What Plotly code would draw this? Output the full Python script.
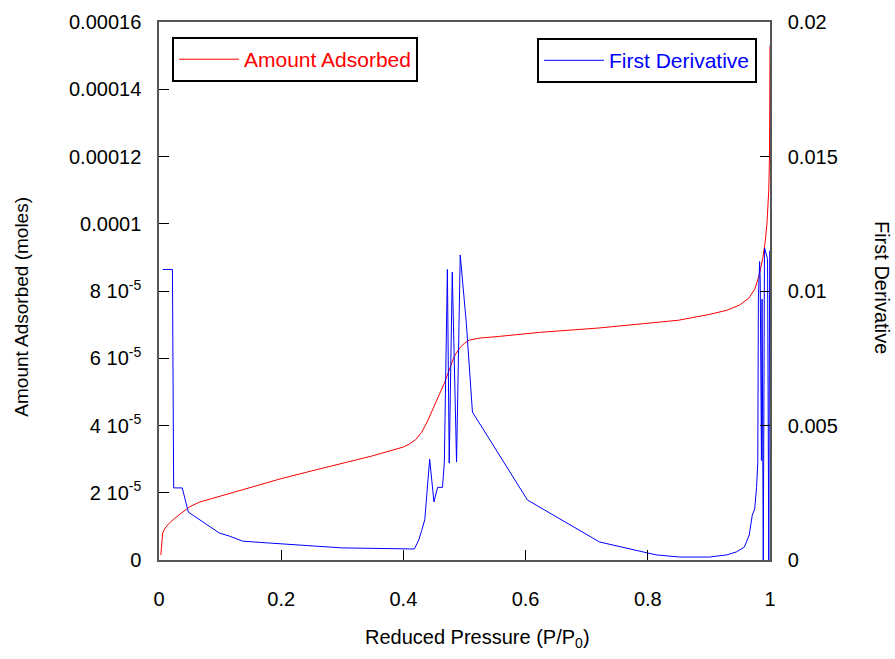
import plotly.graph_objects as go

# Amount adsorbed (left axis)
p_ads = [0.003, 0.004, 0.006, 0.01, 0.017, 0.025, 0.034, 0.05, 0.066, 0.1, 0.15, 0.2,
         0.25, 0.3, 0.35, 0.4, 0.41, 0.42, 0.43, 0.44, 0.45, 0.46, 0.467, 0.475, 0.483,
         0.492, 0.5, 0.508, 0.525, 0.557, 0.623, 0.72, 0.8, 0.85, 0.9, 0.93, 0.95,
         0.965, 0.975, 0.982, 0.988, 0.992, 0.995, 0.998, 0.9992, 1.0]
amount = [1.5e-6, 5e-6, 8e-6, 9.5e-6, 1.1e-5, 1.23e-5, 1.36e-5, 1.58e-5, 1.72e-5,
          1.9e-5, 2.17e-5, 2.42e-5, 2.65e-5, 2.88e-5, 3.1e-5, 3.36e-5, 3.45e-5,
          3.58e-5, 3.8e-5, 4.15e-5, 4.55e-5, 4.95e-5, 5.26e-5, 5.65e-5, 6.05e-5,
          6.3e-5, 6.45e-5, 6.54e-5, 6.6e-5, 6.65e-5, 6.77e-5, 6.9e-5, 7.03e-5,
          7.13e-5, 7.3e-5, 7.43e-5, 7.58e-5, 7.78e-5, 8.05e-5, 8.45e-5, 8.95e-5,
          9.45e-5, 1.0e-4, 1.1e-4, 1.2e-4, 1.53e-4]

# First derivative (right axis)
p_der = [0.006, 0.022, 0.024, 0.038, 0.048, 0.099, 0.115, 0.137, 0.181, 0.23, 0.3,
         0.418, 0.425, 0.43, 0.435, 0.443, 0.45, 0.456, 0.464, 0.467, 0.472, 0.475,
         0.48, 0.487, 0.493, 0.503, 0.513, 0.603, 0.721, 0.8, 0.814, 0.852, 0.901,
         0.929, 0.945, 0.958, 0.966, 0.971, 0.975, 0.978, 0.98, 0.981, 0.983, 0.984,
         0.986, 0.987, 0.989, 0.991, 0.994, 0.996, 0.998, 0.9995]
deriv = [0.0108, 0.0108, 0.00268, 0.00268, 0.00178, 0.001, 0.00089, 0.0007, 0.00063,
         0.00056, 0.00045, 0.00041, 0.00074, 0.0011, 0.0015, 0.00375, 0.00216, 0.0027,
         0.0027, 0.00364, 0.0108, 0.0036, 0.0107, 0.00364, 0.01134, 0.0088, 0.0055,
         0.00223, 0.00067, 0.00026, 0.00019, 0.00011, 0.00011, 0.00019, 0.0003,
         0.00048, 0.00093, 0.00167, 0.0019, 0.0027, 0.0036, 0.0097, 0.0111, 0.0104,
         0.0037, 0.0097, 0.0, 0.0116, 0.0114, 0.0112, 0.0, 0.0115]

x_ticks = [0, 0.2, 0.4, 0.6, 0.8, 1]
x_ticktext = ["0", "0.2", "0.4", "0.6", "0.8", "1"]
y_ticks = [0, 2e-5, 4e-5, 6e-5, 8e-5, 1e-4, 1.2e-4, 1.4e-4, 1.6e-4]
y_ticktext = ["0", "2 10<sup>-5</sup>", "4 10<sup>-5</sup>", "6 10<sup>-5</sup>",
              "8 10<sup>-5</sup>", "0.0001", "0.00012", "0.00014", "0.00016"]
y2_ticks = [0, 0.005, 0.01, 0.015, 0.02]
y2_ticktext = ["0", "0.005", "0.01", "0.015", "0.02"]

FONT = "Liberation Sans, Arial, sans-serif"
FS = 20

fig = go.Figure()
fig.add_trace(go.Scatter(x=p_ads, y=amount, mode="lines", name="Amount Adsorbed",
                         line=dict(color="#ff0000", width=1), legend="legend"))
fig.add_trace(go.Scatter(x=p_der, y=deriv, mode="lines", name="First Derivative",
                         line=dict(color="#0000ff", width=1), yaxis="y2",
                         legend="legend2"))

axis_common = dict(showgrid=False, zeroline=False, ticks="inside", ticklen=10,
                   tickcolor="#000000", tickwidth=1, showline=True,
                   linecolor="#555555", linewidth=1.5,
                   tickfont=dict(family=FONT, size=FS, color="#000000"))

fig.update_layout(
    width=895, height=659,
    margin=dict(l=159, r=125, t=22, b=99),
    paper_bgcolor="white", plot_bgcolor="white",
    font=dict(family=FONT, size=FS, color="#000000"),
    xaxis=dict(range=[0, 1], tickvals=x_ticks, ticktext=x_ticktext, mirror=True,
               ticklabelstandoff=20, **axis_common),
    yaxis=dict(range=[0, 1.6e-4], tickvals=y_ticks, ticktext=y_ticktext,
               ticklabelstandoff=12, **axis_common),
    yaxis2=dict(range=[0, 0.02], tickvals=y2_ticks, ticktext=y2_ticktext,
                overlaying="y", side="right", ticklabelstandoff=12, **axis_common),
    legend=dict(x=0.0213, y=0.972, xanchor="left", yanchor="top",
                bordercolor="#000000", borderwidth=2, bgcolor="white",
                font=dict(family=FONT, size=21, color="#ff0000"), itemwidth=60),
    legend2=dict(x=0.9787, y=0.970, xanchor="right", yanchor="top",
                 bordercolor="#000000", borderwidth=2, bgcolor="white",
                 font=dict(family=FONT, size=21, color="#0000ff"), itemwidth=60),
    showlegend=True,
    annotations=[
        dict(text="Reduced Pressure (P/P<sub>0</sub>)", xref="paper", yref="paper",
             x=0.522, y=-0.145, showarrow=False, xanchor="center", yanchor="middle",
             font=dict(family=FONT, size=FS, color="#000000")),
        dict(text="Amount Adsorbed (moles)", xref="paper", yref="paper",
             x=-0.225, y=0.47, textangle=-90, showarrow=False,
             xanchor="center", yanchor="middle",
             font=dict(family=FONT, size=19, color="#000000")),
        dict(text="First Derivative", xref="paper", yref="paper",
             x=1.183, y=0.506, textangle=90, showarrow=False,
             xanchor="center", yanchor="middle",
             font=dict(family=FONT, size=FS, color="#000000")),
    ],
)

fig.write_html("out.html")
